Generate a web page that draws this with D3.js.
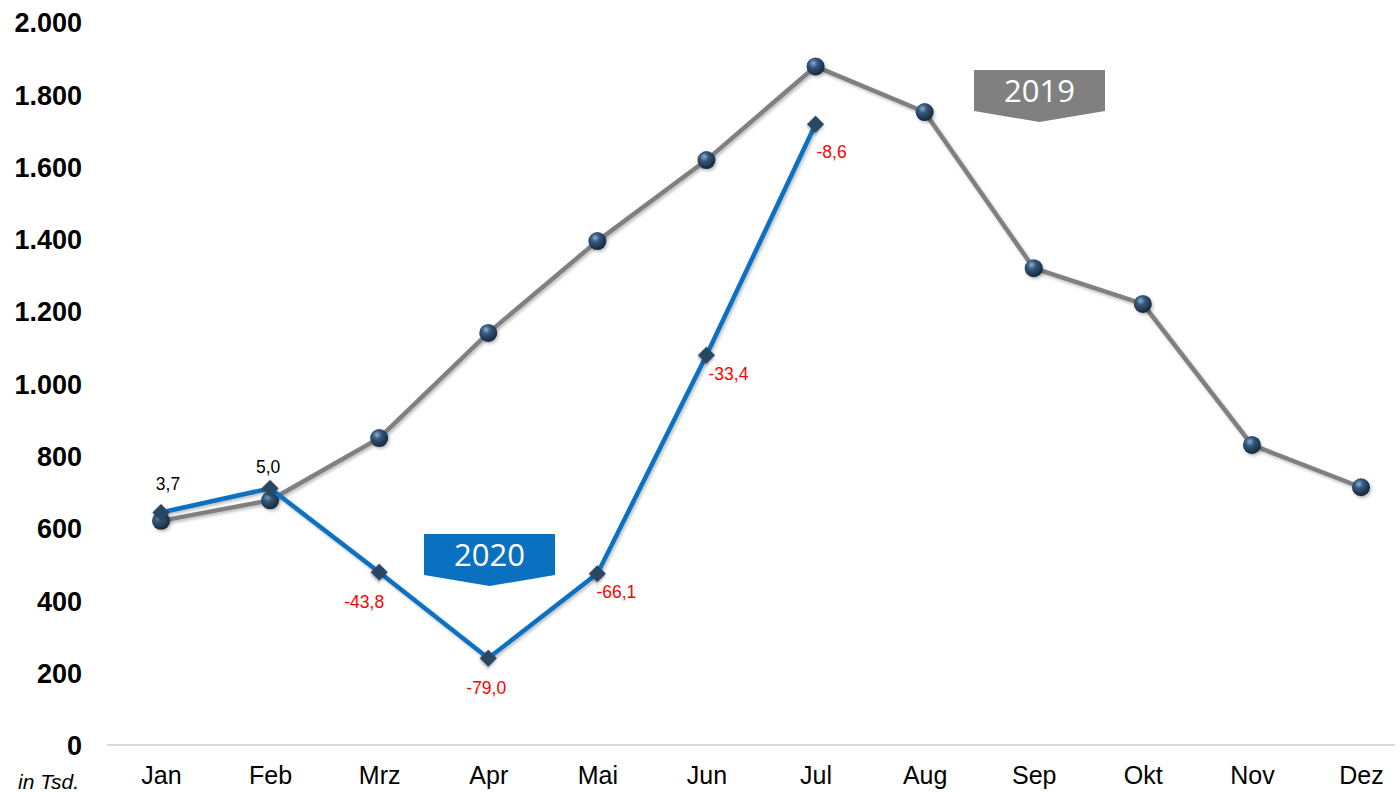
<!DOCTYPE html>
<html><head><meta charset="utf-8">
<script src="https://cdn.jsdelivr.net/npm/d3@7"></script>
<style>body{margin:0;background:#fff}svg{display:block}</style>
</head><body><svg id="c" width="1400" height="792"></svg>
<script>
const months = ["Jan","Feb","Mrz","Apr","Mai","Jun","Jul","Aug","Sep","Okt","Nov","Dez"];
const values2019 = [620, 677, 849, 1140, 1394, 1618, 1877, 1751, 1319, 1220, 830, 713];
const values2020 = [643, 710, 478, 240, 474, 1078, 1717];
const changeLabels = ["3,7","5,0","-43,8","-79,0","-66,1","-33,4","-8,6"];
const yTicks = [0,200,400,600,800,1000,1200,1400,1600,1800,2000];

const svg = d3.select("#c");
const x = d3.scalePoint().domain(months).range([161, 1361]);
const y = d3.scaleLinear().domain([0, 2000]).range([745, 22]);
const fmt = v => d3.format(",")(v).replace(/,/g, ".");

const defs = svg.append("defs");
const rg = defs.append("radialGradient").attr("id","sph").attr("cx","38%").attr("cy","32%").attr("r","70%");
rg.append("stop").attr("offset","0%").attr("stop-color","#8fb0cf");
rg.append("stop").attr("offset","35%").attr("stop-color","#34587c");
rg.append("stop").attr("offset","100%").attr("stop-color","#15263a");
const sh = defs.append("filter").attr("id","shadow").attr("x","-20%").attr("y","-20%").attr("width","140%").attr("height","140%");
sh.append("feDropShadow").attr("dx",1.5).attr("dy",2).attr("stdDeviation",1.5).attr("flood-color","#000").attr("flood-opacity",0.25);

// axis line
svg.append("line").attr("x1",107).attr("x2",1395).attr("y1",y(0)).attr("y2",y(0))
  .attr("stroke","#d9d9d9").attr("stroke-width",2);

// y tick labels
const yAxis = d3.axisLeft(y).tickValues(yTicks).tickFormat(fmt).tickSize(0).tickPadding(0);
const ya = svg.append("g").attr("transform","translate(82,0)").call(yAxis);
ya.select(".domain").remove();
ya.selectAll("text").attr("font-family","Liberation Sans, Arial, sans-serif")
  .attr("font-size",27).attr("font-weight","bold").attr("fill","#000").attr("dy","0.36em");

// x labels
const xAxis = d3.axisBottom(x).tickSize(0).tickPadding(0);
const xa = svg.append("g").attr("transform","translate(0,784)").call(xAxis);
xa.select(".domain").remove();
xa.selectAll("text").attr("font-family","Liberation Sans, Arial, sans-serif")
  .attr("font-size",25).attr("fill","#000").attr("y",0).attr("dy","0");

svg.append("text").attr("x",18).attr("y",789).text("in Tsd.")
  .attr("font-family","Liberation Sans, Arial, sans-serif").attr("font-size",21)
  .attr("font-style","italic").attr("fill","#000");

const line = d3.line().x((d,i)=>x(months[i])).y(d=>y(d));

// 2019 line
svg.append("path").datum(values2019).attr("d",line).attr("fill","none")
  .attr("stroke","#808080").attr("stroke-width",4.5).attr("filter","url(#shadow)");
svg.selectAll("circle.s").data(values2019).join("circle").attr("class","s")
  .attr("cx",(d,i)=>x(months[i])).attr("cy",d=>y(d)).attr("r",9)
  .attr("fill","url(#sph)").attr("filter","url(#shadow)");

// 2020 line
svg.append("path").datum(values2020).attr("d",line).attr("fill","none")
  .attr("stroke","#0a70c0").attr("stroke-width",4.5).attr("filter","url(#shadow)");
svg.selectAll("path.d").data(values2020).join("path").attr("class","d")
  .attr("d",d3.symbol().type(d3.symbolSquare).size(150))
  .attr("transform",(d,i)=>`translate(${x(months[i])},${y(d)}) rotate(45)`)
  .attr("fill","#2b4662").attr("filter","url(#shadow)");

// data labels
const labelOffsets = [[7,-23],[-2,-15],[-15,36],[-2,36],[19,24],[22,25],[16,34]];
svg.selectAll("text.l").data(values2020).join("text").attr("class","l")
  .attr("x",(d,i)=>x(months[i])+labelOffsets[i][0])
  .attr("y",(d,i)=>y(d)+labelOffsets[i][1])
  .attr("text-anchor","middle")
  .attr("font-family","Liberation Sans, Arial, sans-serif").attr("font-size",17.5)
  .attr("fill",(d,i)=>i<2?"#000":"#ff0000")
  .text((d,i)=>changeLabels[i]);

// banners
function banner(cx, top, w, fill, label){
  const l = cx - w/2, r = cx + w/2, sb = top + 41, tip = top + 52;
  svg.append("path").attr("d",`M${l},${top}H${r}V${sb}L${cx},${tip}L${l},${sb}Z`).attr("fill",fill);
  svg.append("text").attr("x",cx).attr("y",top+32).attr("text-anchor","middle")
    .attr("font-family","Open Sans, DejaVu Sans, sans-serif").attr("font-size",31)
    .attr("fill","#fff").text(label);
}
banner(489.5, 534, 131, "#0a70c0", "2020");
banner(1039.5, 70, 131, "#808080", "2019");
</script></body></html>
